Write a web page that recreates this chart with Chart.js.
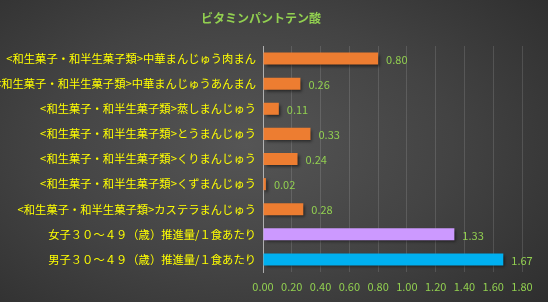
<!DOCTYPE html>
<html><head><meta charset="utf-8">
<script src="https://cdn.jsdelivr.net/npm/chart.js@4"></script>
<style>
html,body{margin:0;padding:0;}
body{width:548px;height:302px;overflow:hidden;
background:radial-gradient(ellipse 75% 85% at 45% 48%, #555555 0%, #434343 50%, #2c2c2c 100%);}
#wrap{position:relative;width:548px;height:302px;}
</style></head>
<body><div id="wrap"><canvas id="c" width="548" height="302"></canvas></div>
<script>
const title = 'ビタミンパントテン酸';
const categories = [
  '<和生菓子・和半生菓子類>中華まんじゅう肉まん',
  '<和生菓子・和半生菓子類>中華まんじゅうあんまん',
  '<和生菓子・和半生菓子類>蒸しまんじゅう',
  '<和生菓子・和半生菓子類>とうまんじゅう',
  '<和生菓子・和半生菓子類>くりまんじゅう',
  '<和生菓子・和半生菓子類>くずまんじゅう',
  '<和生菓子・和半生菓子類>カステラまんじゅう',
  '女子３０～４９（歳）推進量/１食あたり',
  '男子３０～４９（歳）推進量/１食あたり'
];
const values = [0.80, 0.26, 0.11, 0.33, 0.24, 0.02, 0.28, 1.33, 1.67];
const xTicks = [0, 0.2, 0.4, 0.6, 0.8, 1.0, 1.2, 1.4, 1.6, 1.8];

const ORANGE = '#ED7D31', PURPLE = '#CC99FF', BLUE = '#00B0F0';
const barColors = categories.map((c, i) => i === categories.length - 1 ? BLUE : (i === categories.length - 2 ? PURPLE : ORANGE));
const JP = '"Noto Sans CJK JP", "Noto Sans", sans-serif';

const shadowPlugin = {
  id: 'shadow',
  beforeDatasetDraw(chart) {
    const ctx = chart.ctx; ctx.save();
    ctx.shadowColor = 'rgba(0,0,0,0.55)';
    ctx.shadowBlur = 3; ctx.shadowOffsetX = 2; ctx.shadowOffsetY = 2;
  },
  afterDatasetDraw(chart) { chart.ctx.restore(); }
};
const labelPlugin = {
  id: 'valLabels',
  afterDatasetsDraw(chart) {
    const ctx = chart.ctx;
    const meta = chart.getDatasetMeta(0);
    ctx.save();
    ctx.fillStyle = '#92D050';
    ctx.font = '11px ' + JP;
    ctx.textAlign = 'left'; ctx.textBaseline = 'middle';
    meta.data.forEach((bar, i) => {
      ctx.fillText(values[i].toFixed(2), bar.x + 8, bar.y + 1);
    });
    ctx.restore();
  }
};

new Chart(document.getElementById('c'), {
  type: 'bar',
  data: { labels: categories, datasets: [{ data: values, backgroundColor: barColors, borderWidth: 0,
    barPercentage: 0.8, categoryPercentage: 0.6 }] },
  options: {
    indexAxis: 'y', responsive: false, animation: false, devicePixelRatio: 1,
    layout: { padding: { left: 0, right: 26, top: 0, bottom: 0 } },
    plugins: {
      legend: { display: false }, tooltip: { enabled: false },
      title: { display: true, text: title, color: '#92D050',
        font: { family: JP, size: 12, weight: 'bold', lineHeight: 1.2 },
        padding: { top: 11, bottom: 20.6 } }
    },
    scales: {
      x: { min: 0, max: 1.8, afterBuildTicks: s => { s.ticks = xTicks.map(v => ({ value: v })); },
        afterFit: s => { s.height = 30; },
        grid: { color: 'rgba(255,255,255,0.13)', drawTicks: false },
        border: { display: false },
        ticks: { color: '#92D050', padding: 8, font: { family: JP, size: 11 }, callback: v => Number(v).toFixed(2) } },
      y: { afterFit: s => { s.width = 263; },
        grid: { display: false, drawTicks: false },
        border: { display: true, color: 'rgba(210,210,210,0.7)', width: 1 },
        ticks: { color: '#FFFF00', padding: 7, font: { family: JP, size: 11.3 }, autoSkip: false } }
    }
  },
  plugins: [shadowPlugin, labelPlugin]
});
</script></body></html>
